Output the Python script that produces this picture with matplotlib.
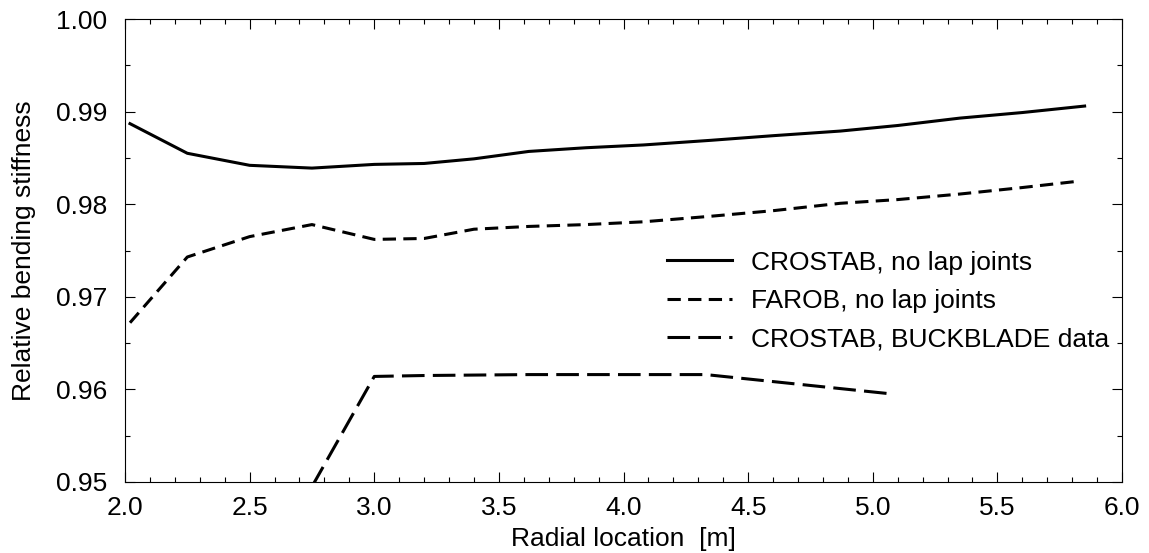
import matplotlib.pyplot as plt
from matplotlib.ticker import MultipleLocator

plt.rcParams['font.family'] = ['Liberation Sans', 'DejaVu Sans']
plt.rcParams['font.size'] = 19

# CROSTAB, no lap joints
x_crostab = [2.02, 2.25, 2.5, 2.75, 3.0, 3.2, 3.4, 3.62, 3.85, 4.08, 4.35, 4.6, 4.87, 5.1, 5.35, 5.6, 5.85]
y_crostab = [0.9887, 0.9855, 0.9842, 0.9839, 0.9843, 0.9844, 0.9849, 0.9857, 0.9861, 0.9864, 0.9869,
             0.9874, 0.9879, 0.9885, 0.9893, 0.9899, 0.9906]

# FAROB, no lap joints
x_farob = [2.02, 2.25, 2.5, 2.75, 3.0, 3.2, 3.4, 3.62, 3.85, 4.08, 4.35, 4.6, 4.87, 5.1, 5.35, 5.6, 5.83]
y_farob = [0.9672, 0.9743, 0.9765, 0.9778, 0.9762, 0.9763, 0.9773, 0.9776, 0.9778, 0.9781, 0.9787,
           0.9793, 0.9801, 0.9805, 0.9811, 0.9818, 0.9825]

# CROSTAB, BUCKBLADE data
x_buck = [2.75, 3.0, 3.2, 3.62, 4.08, 4.33, 5.08]
y_buck = [0.9495, 0.9614, 0.9615, 0.9616, 0.9616, 0.9616, 0.9595]

fig = plt.figure(figsize=(11.49, 5.53), dpi=100)
ax = fig.add_axes([0.1088, 0.1284, 0.8677, 0.8372])

lw = 2.2
ax.plot(x_crostab, y_crostab, color='black', lw=lw, label='CROSTAB, no lap joints')
ax.plot(x_farob, y_farob, color='black', lw=lw, dashes=(4.35, 2.4), label='FAROB, no lap joints')
ax.plot(x_buck, y_buck, color='black', lw=lw, dashes=(7.4, 2.7), label='CROSTAB, BUCKBLADE data')

ax.set_xlim(2.0, 6.0)
ax.set_ylim(0.95, 1.00)
ax.xaxis.set_major_locator(MultipleLocator(0.5))
ax.xaxis.set_minor_locator(MultipleLocator(0.1))
ax.yaxis.set_major_locator(MultipleLocator(0.01))
ax.yaxis.set_minor_locator(MultipleLocator(0.005))
ax.xaxis.set_major_formatter(plt.FormatStrFormatter('%.1f'))
ax.yaxis.set_major_formatter(plt.FormatStrFormatter('%.2f'))
ax.tick_params(which='both', direction='in', top=True, right=True, width=0.8)
ax.tick_params(which='major', length=7, labelsize=19)
ax.tick_params(axis='x', which='major', pad=10)
ax.tick_params(axis='y', which='major', pad=13)
ax.tick_params(which='minor', length=3.5)
for s in ax.spines.values():
    s.set_linewidth(0.8)

ax.set_xlabel('Radial location  [m]', fontsize=19, labelpad=5)
ax.set_ylabel('Relative bending stiffness', fontsize=19, labelpad=14)

ax.legend(loc='center left', bbox_to_anchor=(0.5436, 0.391), frameon=False, fontsize=19,
          handlelength=2.46, handletextpad=0.72, labelspacing=0.54, borderpad=0, borderaxespad=0)

fig.savefig('out.png', dpi=100)
